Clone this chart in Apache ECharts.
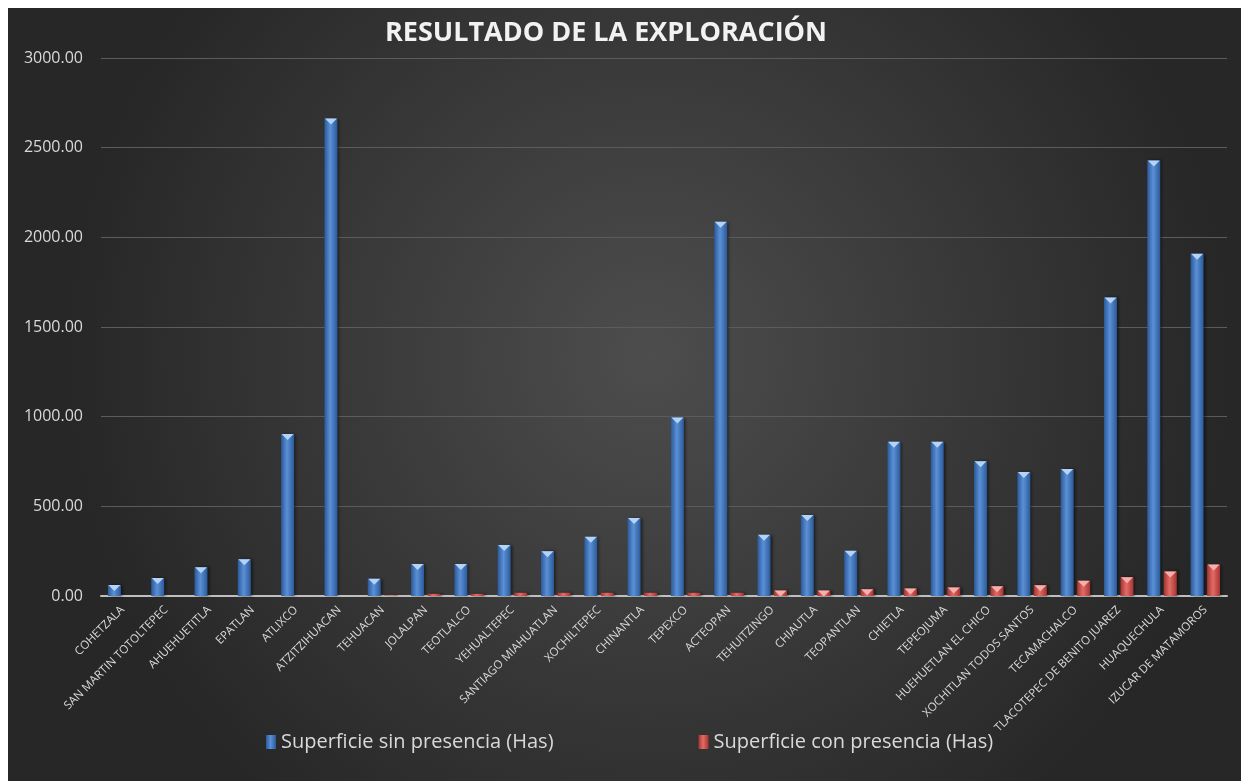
<!DOCTYPE html>
<html>
<head>
<meta charset="utf-8">
<script src="https://cdn.jsdelivr.net/npm/echarts@6/dist/echarts.min.js"></script>
<style>
  html, body { margin: 0; padding: 0; background: #ffffff; }
  #chart { position: absolute; left: 8px; top: 8px; width: 1233px; height: 773px; }
</style>
</head>
<body>
<div id="chart"></div>
<script>
const municipios = [
  'COHETZALA', 'SAN MARTIN TOTOLTEPEC', 'AHUEHUETITLA', 'EPATLAN', 'ATLIXCO',
  'ATZITZIHUACAN', 'TEHUACAN', 'JOLALPAN', 'TEOTLALCO', 'YEHUALTEPEC',
  'SANTIAGO MIAHUATLAN', 'XOCHILTEPEC', 'CHINANTLA', 'TEPEXCO', 'ACTEOPAN',
  'TEHUITZINGO', 'CHIAUTLA', 'TEOPANTLAN', 'CHIETLA', 'TEPEOJUMA',
  'HUEHUETLAN EL CHICO', 'XOCHITLAN TODOS SANTOS', 'TECAMACHALCO',
  'TLACOTEPEC DE BENITO JUAREZ', 'HUAQUECHULA', 'IZUCAR DE MATAMOROS'
]
const sinPresencia = [
  61, 100, 160, 205, 904, 2662, 96, 179, 179, 285, 250, 330, 435, 995, 2087,
  341, 452, 252, 860, 860, 751, 692, 708, 1665, 2429, 1909
]
const conPresencia = [
  0, 0, 0, 0, 0, 0, 3, 12, 12, 18, 18, 18, 18, 18, 18,
  30, 30, 37, 42, 48, 54, 60, 85, 105, 137, 175
]
const yTicks = { min: 0, max: 3000, interval: 500 }

const titleText = 'RESULTADO DE LA EXPLORACIÓN'
const seriesNames = ['Superficie sin presencia (Has)', 'Superficie con presencia (Has)']
const font = '"Open Sans", sans-serif'

const hGrad = (edge, mid) => new echarts.graphic.LinearGradient(0, 0, 1, 0, [
  { offset: 0, color: edge },
  { offset: 0.45, color: mid },
  { offset: 1, color: edge },
])
const blueFill = hGrad('#2b5a99', '#5b90d6')
const redFill  = hGrad('#a53431', '#e26c67')

const barCommon = {
  type: 'bar',
  barWidth: 13,
  barGap: '27%',
  emphasis: { disabled: true },
}
const capCommon = {
  type: 'pictorialBar',
  symbol: 'triangle',
  symbolRotate: 180,
  symbolPosition: 'end',
  symbolSize: [12, 6],
  barWidth: 13,
  barGap: '27%',
  z: 5,
  silent: true,
  emphasis: { disabled: true },
}

const chart = echarts.init(document.getElementById('chart'), null, { renderer: 'canvas' })

chart.setOption({
  animation: false,
  backgroundColor: new echarts.graphic.RadialGradient(0.52, 0.45, 0.75, [
    { offset: 0, color: '#4d4d4d' },
    { offset: 1, color: '#272727' },
  ]),
  graphic: [
    {
      type: 'text',
      x: 598,
      y: 25,
      style: {
        text: titleText,
        align: 'center',
        verticalAlign: 'middle',
        fill: '#f2f2f2',
        font: 'bold 27px "Open Sans", sans-serif',
        shadowColor: 'rgba(0,0,0,0.7)',
        shadowBlur: 4,
        shadowOffsetX: 1,
        shadowOffsetY: 2,
      },
    },
  ],
  legend: {
    data: seriesNames,
    left: 253,
    top: 719,
    itemGap: 145,
    itemWidth: 10,
    itemHeight: 14,
    icon: 'rect',
    selectedMode: false,
    textStyle: { color: '#d9d9d9', fontFamily: font, fontSize: 20 },
  },
  grid: { left: 93, right: 14, top: 50, bottom: 185, containLabel: false },
  xAxis: {
    type: 'category',
    data: municipios,
    axisLine: { lineStyle: { color: '#bfbfbf', width: 2 } },
    axisTick: { show: false },
    axisLabel: {
      rotate: 45,
      interval: 0,
      margin: 12,
      color: '#d9d9d9',
      fontFamily: font,
      fontSize: 11.5,
    },
  },
  yAxis: {
    type: 'value',
    min: yTicks.min,
    max: yTicks.max,
    interval: yTicks.interval,
    axisLine: { show: false },
    axisTick: { show: false },
    axisLabel: {
      color: '#d9d9d9',
      fontFamily: font,
      fontSize: 16,
      margin: 18,
      formatter: (v) => v.toFixed(2),
    },
    splitLine: { lineStyle: { color: '#5c5c5c', width: 1 } },
  },
  series: [
    {
      ...barCommon,
      name: seriesNames[0],
      data: sinPresencia,
      itemStyle: {
        color: blueFill,
        shadowColor: 'rgba(0,0,0,0.55)',
        shadowBlur: 3,
        shadowOffsetX: 2,
      },
    },
    {
      ...barCommon,
      name: seriesNames[1],
      data: conPresencia,
      itemStyle: {
        color: redFill,
        shadowColor: 'rgba(0,0,0,0.55)',
        shadowBlur: 3,
        shadowOffsetX: 2,
      },
    },
    {
      ...capCommon,
      name: 'cap-sin',
      data: sinPresencia,
      itemStyle: { color: '#b4d4f7' },
    },
    {
      ...capCommon,
      name: 'cap-con',
      data: conPresencia.map((v) => (v >= 30 ? v : '-')),
      itemStyle: { color: '#f5b0ad' },
    },
  ],
})
</script>
</body>
</html>
